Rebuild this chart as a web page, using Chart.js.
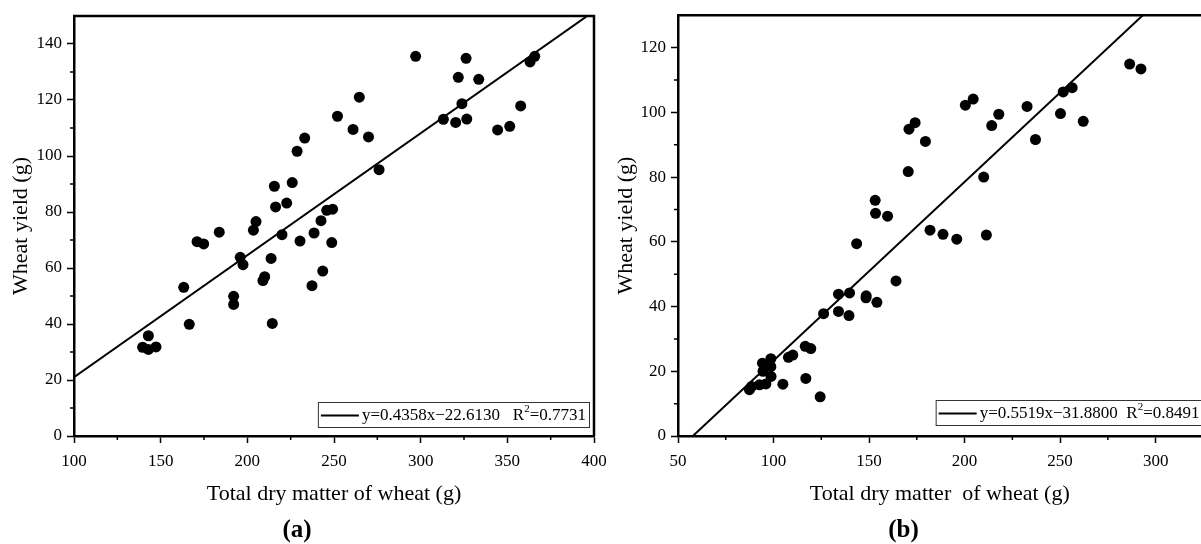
<!DOCTYPE html>
<html>
<head>
<meta charset="utf-8">
<script src="https://cdn.jsdelivr.net/npm/chart.js@4.4.1/dist/chart.umd.min.js"></script>
<style>
  html, body { margin: 0; padding: 0; background: #fff; }
  #wrap { position: relative; width: 1201px; height: 544px; overflow: hidden; }
  .panel { position: absolute; top: 0; height: 544px; }
</style>
</head>
<body>
<div id="wrap">
  <div class="panel" style="left:0; width:615px;"><canvas id="chartA"></canvas></div>
  <div class="panel" style="left:600px; width:607px;"><canvas id="chartB"></canvas></div>
</div>
<script>
// panel (a)
const dryA = [139.6, 142.9, 142.9, 147.3, 163.3, 166.5, 171, 174.8, 183.8, 192.1, 192.1, 195.9, 197.5,
  203.5, 205, 209, 210, 213.7, 214.4, 215.6, 216.3, 220, 222.7, 225.9, 228.7, 230.4, 233.1, 237.3,
  238.5, 242.5, 243.5, 245.8, 248.7, 249.2, 252, 261, 264.6, 269.9, 276, 297.1, 313.1, 320.2, 321.7,
  323.8, 326.2, 326.6, 333.5, 344.4, 351.4, 357.7, 363.1, 365.8];
const yieldA = [31.7, 30.9, 35.8, 31.8, 53.1, 39.9, 69.4, 68.6, 72.8, 49.9, 47, 63.8, 61.2,
  73.5, 76.6, 55.5, 56.9, 63.4, 40.2, 89.2, 81.8, 71.9, 83.2, 90.5, 101.7, 69.6, 106.4, 53.7,
  72.5, 76.9, 58.9, 80.6, 69.1, 81, 114.2, 109.5, 121, 106.8, 95.1, 135.6, 113.1, 112, 128.1,
  118.7, 134.9, 113.2, 127.4, 109.3, 110.6, 117.9, 133.6, 135.6];
const fitAx = [100, 400];
const fitAy = [20.97, 151.71];
const xTicksA = [100, 150, 200, 250, 300, 350, 400];
const yTicksA = [0, 20, 40, 60, 80, 100, 120, 140];
const eqA = 'y=0.4358x\u221222.6130   ';
const r2A = '0.7731';

// panel (b)
const dryB = [87.4, 88.5, 92.6, 94.2, 94.5, 96, 98.6, 98.6, 98.7, 104.9, 107.8, 110.1, 116.6, 116.9,
  119.5, 124.4, 126.2, 134, 134, 139.5, 139.8, 143.5, 148.4, 148.5, 153.2, 153.4, 154.1, 159.7,
  164.1, 170.5, 170.9, 174.1, 179.5, 181.9, 188.7, 195.9, 200.4, 204.5, 210, 211.4, 214.2, 217.9,
  232.7, 237.1, 250.2, 251.6, 256.3, 262.1, 286.4, 292.3];
const yieldB = [14.3, 15.3, 15.8, 22.5, 20, 16.1, 23.9, 21.4, 18.4, 16, 24.3, 25, 27.7, 17.8,
  27, 12.1, 37.8, 43.8, 38.5, 37.2, 44.2, 59.4, 42.7, 43.3, 72.8, 68.8, 41.3, 67.9,
  47.9, 81.7, 94.8, 96.8, 91, 63.6, 62.3, 60.8, 102.2, 104.1, 80, 62.1, 95.9, 99.4,
  101.8, 91.6, 99.6, 106.3, 107.6, 97.2, 114.9, 113.4];
const fitBx = [50, 324];
const fitBy = [-4.29, 146.94];
const xTicksB = [50, 100, 150, 200, 250, 300];
const yTicksB = [0, 20, 40, 60, 80, 100, 120];
const eqB = 'y=0.5519x\u221231.8800  ';
const r2B = '0.8491';

Chart.defaults.font.family = '"Liberation Serif", "Times New Roman", serif';
Chart.defaults.color = '#000';

const frameAndLegend = {
  id: 'frameAndLegend',
  afterDraw(chart, args, opts) {
    const { ctx, chartArea: a, scales: { x, y } } = chart;
    ctx.save();
    ctx.strokeStyle = '#000';
    ctx.lineWidth = 2.5;
    ctx.beginPath();
    ctx.moveTo(a.left - 1, a.top);
    ctx.lineTo(a.right, a.top);
    if (opts.rightBorder) ctx.lineTo(a.right, a.bottom);
    ctx.stroke();

    // minor ticks halfway between the major ones
    ctx.lineWidth = 1.5;
    ctx.beginPath();
    for (let i = 0; i < x.ticks.length - 1; i++) {
      const px = x.getPixelForValue((x.ticks[i].value + x.ticks[i + 1].value) / 2);
      ctx.moveTo(px, a.bottom);
      ctx.lineTo(px, a.bottom + 4);
    }
    const yt = y.ticks.map(t => t.value);
    yt.push(yt[yt.length - 1] + (yt[1] - yt[0]));
    for (let i = 0; i < yt.length - 1; i++) {
      const v = (yt[i] + yt[i + 1]) / 2;
      if (v >= y.max) continue;
      const py = y.getPixelForValue(v);
      ctx.moveTo(a.left, py);
      ctx.lineTo(a.left - 4, py);
    }
    ctx.stroke();

    // fit legend
    const font = '17px "Liberation Serif", serif';
    const sup = '11px "Liberation Serif", serif';
    ctx.font = font;
    const w1 = ctx.measureText(opts.eq + 'R').width;
    const w2 = ctx.measureText('=' + opts.r2).width;
    ctx.font = sup;
    const ws = ctx.measureText('2').width;
    const boxH = 25;
    const boxW = 3 + 38 + 3 + w1 + ws + w2 + 3;
    const bx = a.right + opts.boxRight - boxW;
    const by = a.bottom - opts.boxBottom - boxH;
    ctx.fillStyle = '#fff';
    ctx.fillRect(bx, by, boxW, boxH);
    ctx.lineWidth = 1;
    ctx.strokeStyle = '#333';
    ctx.strokeRect(bx + 0.5, by + 0.5, boxW, boxH);
    const cy = by + boxH / 2 + 1;
    ctx.strokeStyle = '#000';
    ctx.lineWidth = 2;
    ctx.beginPath();
    ctx.moveTo(bx + 3, cy);
    ctx.lineTo(bx + 41, cy);
    ctx.stroke();
    ctx.fillStyle = '#000';
    ctx.textBaseline = 'middle';
    ctx.textAlign = 'left';
    ctx.font = font;
    let tx = bx + 44;
    ctx.fillText(opts.eq + 'R', tx, cy);
    tx += w1;
    ctx.font = sup;
    ctx.fillText('2', tx, cy - 6);
    tx += ws;
    ctx.font = font;
    ctx.fillText('=' + opts.r2, tx, cy);
    ctx.restore();
  }
};

function makeChart(id, cfg) {
  const tickFont = { size: 17 };
  const titleFont = { size: 22 };
  return new Chart(document.getElementById(id), {
    type: 'scatter',
    data: {
      datasets: [{
        data: cfg.dry.map((v, i) => ({ x: v, y: cfg.yield[i] })),
        backgroundColor: '#000',
        borderWidth: 0,
        pointRadius: 5.5,
        pointHoverRadius: 5.5
      }, {
        type: 'line',
        data: cfg.fitX.map((v, i) => ({ x: v, y: cfg.fitY[i] })),
        borderColor: '#000',
        borderWidth: 2,
        pointRadius: 0,
        fill: false
      }]
    },
    options: {
      responsive: true,
      maintainAspectRatio: false,
      animation: false,
      layout: { padding: { top: cfg.padTop, right: cfg.padRight, left: 0, bottom: 0 } },
      plugins: {
        legend: { display: false },
        tooltip: { enabled: false },
        title: {
          display: true, position: 'bottom', text: cfg.label, color: '#000',
          font: { size: 25, weight: 'bold' }, padding: { top: 0, bottom: -2 }
        },
        frameAndLegend: {
          rightBorder: cfg.rightBorder, eq: cfg.eq, r2: cfg.r2,
          boxRight: cfg.boxRight, boxBottom: cfg.boxBottom
        }
      },
      scales: {
        x: {
          type: 'linear', min: cfg.xMin, max: cfg.xMax,
          afterBuildTicks: s => { s.ticks = cfg.xTicks.map(v => ({ value: v })); },
          afterFit: s => { s.height = 80; s.paddingLeft = 0; s.paddingRight = 0; },
          ticks: { font: tickFont, color: '#000', padding: 8, maxRotation: 0 },
          grid: { drawOnChartArea: false, tickLength: 7, tickWidth: 1.5, tickColor: '#000' },
          border: { color: '#000', width: 2.5 },
          title: { display: true, text: cfg.xTitle, font: titleFont, color: '#000', padding: { top: 0, bottom: 9 } }
        },
        y: {
          type: 'linear', min: 0, max: cfg.yMax,
          afterBuildTicks: s => { s.ticks = cfg.yTicks.map(v => ({ value: v })); },
          afterFit: s => { s.width = cfg.yWidth; },
          ticks: { font: tickFont, color: '#000', padding: 5 },
          grid: { drawOnChartArea: false, tickLength: 7, tickWidth: 1.5, tickColor: '#000' },
          border: { color: '#000', width: 2.5 },
          title: { display: true, text: 'Wheat yield (g)', font: titleFont, color: '#000', padding: { top: cfg.yTitlePad, bottom: 0 } }
        }
      }
    },
    plugins: [frameAndLegend]
  });
}

makeChart('chartA', {
  dry: dryA, yield: yieldA, fitX: fitAx, fitY: fitAy,
  xMin: 100, xMax: 400, yMax: 150, xTicks: xTicksA, yTicks: yTicksA,
  xTitle: 'Total dry matter of wheat (g)', label: '(a)',
  padTop: 16, padRight: 21, yWidth: 74, yTitlePad: 8,
  rightBorder: true, eq: eqA, r2: r2A, boxRight: -5, boxBottom: 9
});

makeChart('chartB', {
  dry: dryB, yield: yieldB, fitX: fitBx, fitY: fitBy,
  xMin: 50, xMax: 324, yMax: 130, xTicks: xTicksB, yTicks: yTicksB,
  xTitle: 'Total dry matter  of wheat (g)', label: '(b)',
  padTop: 13, padRight: 0, yWidth: 78, yTitlePad: 13,
  rightBorder: false, eq: eqB, r2: r2B, boxRight: 1, boxBottom: 11
});
</script>
</body>
</html>
